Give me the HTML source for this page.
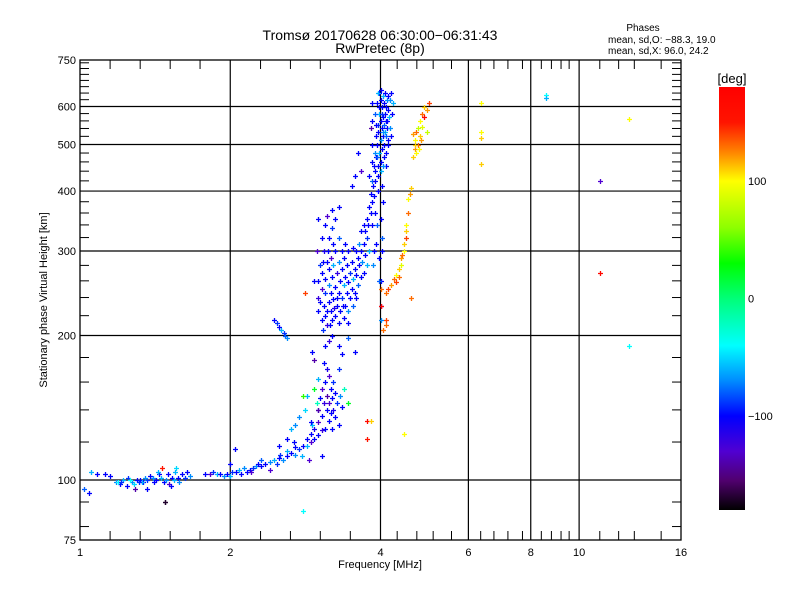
<!DOCTYPE html>
<html><head><meta charset="utf-8"><style>
body{margin:0;background:#fff;}
svg{display:block;font-family:"Liberation Sans",sans-serif;}
</style></head><body>
<svg id="chart" width="800" height="600" viewBox="0 0 800 600">
<rect width="800" height="600" fill="#fff"/>
<text x="380" y="40" text-anchor="middle" font-size="14">Tromsø 20170628 06:30:00−06:31:43</text>
<text x="380" y="53" text-anchor="middle" font-size="14">RwPretec (8p)</text>
<text x="643" y="31" text-anchor="middle" font-size="10">Phases</text>
<text x="608" y="43" font-size="10">mean, sd,O: −88.3, 19.0</text>
<text x="608" y="54" font-size="10">mean, sd,X:  96.0, 24.2</text>
<g id="grid"></g><g id="ticks"></g><g id="marks"></g>
<rect x="80" y="60" width="601" height="480" fill="none" stroke="#000" stroke-width="1.3"/>
<text x="380" y="568" text-anchor="middle" font-size="11">Frequency [MHz]</text>
<text transform="translate(47,300) rotate(-90)" text-anchor="middle" font-size="11">Stationary phase Virtual Height [km]</text>
<defs><linearGradient id="cb" x1="0" y1="0" x2="0" y2="1"></linearGradient></defs>
<rect x="719" y="87" width="26" height="423" fill="url(#cb)"/>
<text x="732" y="83" text-anchor="middle" font-size="13">[deg]</text>
<g id="cbticks"></g>
</svg>
<script>
const xTickVals=[1,2,4,6,8,10,16];
const yTickVals=[75,100,200,300,400,500,600,750];
const xGridVals=[2,4,6,8,10];
const yGridVals=[100,200,300,400,500,600];
const xMinorVals=[1.149,1.32,1.516,1.74,2.3,2.64,3.03,3.48,4.32,4.73,5.1,5.55,6.35,6.75,7.2,7.7,8.4,8.8,9.2,9.55,11.0,12.0,12.9,14.6];
const yMinorVals=[80,90,120,140,160,180,220,240,260,280,320,340,360,380,420,440,460,480,520,540,560,580,620,640,660,680,700,720,740];
const cbTickVals=[100,0,-100];
const eLayer=[[1.02,96,-80],[1.05,104,-60],[1.04,94,-100],[1.08,103,-100],[1.12,103,-100],[1.15,102,-100],[1.18,99,-70],[1.2,98,-100],[1.22,100,-60],[1.25,101,-90],[1.27,99,-70],[1.28,98,-50],[1.3,100,-100],[1.32,100,-100],[1.34,99,-100],[1.36,100,-90],[1.38,102,-100],[1.4,101,-70],[1.42,100,-100],[1.44,103,-100],[1.45,101,-60],[1.47,99,-100],[1.49,100,-70],[1.5,103,-100],[1.51,98,-130],[1.53,101,-100],[1.55,104,-60],[1.56,106,-50],[1.57,101,-100],[1.58,99,-70],[1.6,103,-100],[1.62,101,-90],[1.64,104,-100],[1.66,102,-70],[1.24,97,-100],[1.29,96,-140],[1.36,96,-100],[1.48,90,-170],[1.52,97,-100],[1.19,99,-40],[1.43,104,-60],[1.46,106,150],[1.33,99,-60],[1.26,100,-40],[1.31,99,-90],[1.35,101,-70],[1.41,99,-100],[1.54,100,-60],[1.21,99,-90]];
const eRise=[[1.78,103,-100],[1.82,103,-130],[1.85,104,-90],[1.88,103,-60],[1.91,103,-100],[1.94,102,-70],[1.97,103,-100],[2.0,102,-60],[2.0,108,-100],[2.02,104,-90],[2.05,104,-100],[2.08,105,-60],[2.1,103,-100],[2.13,106,-70],[2.16,104,-100],[2.19,105,-100],[2.22,106,-90],[2.25,107,-70],[2.27,108,-100],[2.3,107,-100],[2.04,116,-100],[2.4,105,-130],[2.35,108,-100],[2.4,109,-70],[2.45,110,-60],[2.48,108,-90],[2.5,111,-100],[2.55,110,-70],[2.6,112,-100],[2.6,115,-60],[2.65,114,-100],[2.7,113,-70],[2.7,117,-100],[2.75,116,-90],[2.78,112,-60],[2.8,118,-100],[2.85,118,-60],[2.85,122,-100],[2.9,120,-130],[2.9,125,-100],[2.92,130,-60],[2.95,122,-100],[2.95,128,-110],[3.0,124,-100],[3.0,132,-130],[3.0,140,-100],[3.02,148,-100],[3.05,127,-120],[3.05,136,-100],[3.05,155,-130],[3.08,145,-120],[3.1,128,-100],[3.1,160,-100],[3.12,140,-100],[3.12,150,-140],[3.15,133,-100],[3.15,145,-130],[3.15,165,-130],[3.18,138,-100],[3.18,155,-100],[3.2,128,-100],[3.2,148,-100],[3.22,140,-110],[3.22,160,-90],[3.25,135,-100],[3.25,152,-100],[3.28,145,-90],[3.3,130,-100],[3.3,170,-90],[3.32,150,-70],[3.35,142,-100],[3.38,155,-20],[3.35,183,-100],[2.98,145,-20],[3.0,162,-60],[2.95,178,-140],[3.08,175,-100],[3.1,190,-100],[3.15,195,-120],[3.2,200,-100],[2.85,150,-60],[2.82,140,-50],[2.8,150,40],[2.95,155,20],[3.3,190,-100],[3.45,145,20],[3.45,198,-80],[2.92,185,-100],[2.7,130,-70],[2.65,128,-60],[2.75,135,-70],[2.6,122,-100],[2.5,118,-100],[2.88,110,-130],[3.05,112,-100],[3.0,140,-140],[2.45,215,-100],[2.48,212,-90],[2.5,208,-100],[2.53,205,-60],[2.56,202,-90],[2.58,200,-80],[2.6,198,-70],[2.3,110,-80],[2.52,113,-90],[2.68,120,-100],[2.9,132,-100],[3.12,170,-110]];
const fO=[[3.0,225,-100],[3.0,240,-120],[3.0,260,-100],[3.02,280,-90],[3.05,215,-100],[3.05,250,-130],[3.05,270,-100],[3.08,230,-100],[3.08,300,-110],[3.1,220,-100],[3.1,245,-90],[3.1,262,-100],[3.12,285,-100],[3.12,210,-120],[3.15,235,-100],[3.15,255,-70],[3.15,275,-100],[3.15,320,-100],[3.18,225,-100],[3.18,245,-100],[3.18,290,-130],[3.2,215,-100],[3.2,265,-100],[3.2,335,-90],[3.22,238,-100],[3.22,280,-60],[3.25,220,-100],[3.25,252,-100],[3.25,300,-100],[3.25,350,-100],[3.28,230,-100],[3.28,270,-120],[3.3,212,-100],[3.3,245,-100],[3.3,285,-70],[3.32,225,-100],[3.32,260,-100],[3.35,240,-90],[3.35,275,-100],[3.38,218,-100],[3.38,255,-60],[3.4,230,-100],[3.4,265,-100],[3.42,245,-100],[3.42,280,-100],[3.45,225,-70],[3.45,258,-100],[3.48,240,-100],[3.48,270,-90],[3.5,250,-100],[3.5,285,-100],[3.52,262,-60],[3.55,245,-100],[3.55,275,-100],[3.58,268,-100],[3.6,255,-80],[3.6,290,-100],[3.62,280,-100],[3.65,265,-100],[3.65,300,-100],[3.68,285,-70],[3.7,310,-100],[3.72,295,-100],[3.72,330,-100],[3.75,320,-90],[3.75,350,-100],[3.78,340,-100],[3.8,370,-100],[3.8,300,-60],[3.82,360,-100],[3.82,395,-100],[3.85,380,-100],[3.85,420,-80],[3.87,410,-100],[3.88,450,-100],[3.9,440,-100],[3.9,480,-70],[3.92,470,-100],[3.92,520,-100],[3.94,500,-100],[3.95,550,-90],[3.96,530,-100],[3.97,600,-100],[3.98,580,-60],[3.98,640,-100],[4.0,620,-100],[4.0,560,-100],[4.0,510,-70],[4.0,460,-100],[4.02,600,-100],[4.02,540,-100],[4.02,490,-100],[4.04,630,-60],[4.04,570,-100],[4.04,520,-100],[4.06,610,-100],[4.06,550,-80],[4.06,500,-100],[4.08,640,-100],[4.08,580,-100],[4.08,530,-60],[4.1,600,-100],[4.1,560,-100],[4.1,480,-100],[4.12,620,-70],[4.12,540,-100],[4.14,590,-100],[4.14,510,-100],[4.16,570,-60],[3.95,450,-100],[3.9,420,-100],[3.88,390,-100],[4.0,440,-60],[3.85,340,-100],[3.95,400,-100],[3.7,270,-100],[3.75,280,-60],[2.95,260,-100],[2.98,300,-130],[3.05,320,-100],[3.1,340,-100],[3.12,355,-130],[3.0,350,-100],[3.35,300,-100],[3.4,310,-100],[3.85,460,-100],[3.8,430,-100],[3.85,500,-100],[3.85,560,-100],[3.85,610,-100],[3.82,540,-140],[3.6,480,-100],[3.55,430,-100],[3.65,440,-130],[3.5,410,-100],[3.2,365,-100],[3.3,370,-100],[4.0,230,-100],[4.0,215,-70],[4.0,260,-100],[3.98,290,-100],[4.02,320,-80],[4.05,380,-100],[4.1,450,-100],[4.15,500,-100],[4.2,520,-100],[4.2,640,-100],[4.18,620,-70],
[3.9,580,-80],[3.93,610,-100],[3.96,640,-60],[4.0,650,-100],[4.03,580,-90],[4.05,530,-70],[4.07,470,-100],[4.1,520,-80],[4.12,560,-100],[4.15,630,-100],[4.18,540,-70],[4.22,580,-100],[4.24,610,-60],[3.92,550,-100],[3.94,470,-80],[3.96,430,-100],[3.98,480,-60],[4.02,410,-100],[4.04,450,-70],[3.9,360,-100],[3.93,340,-80],[3.92,310,-100],[3.88,300,-100],[3.86,280,-70],[4.0,350,-100],[4.03,300,-100],[3.97,260,-80],
[3.07,285,-100],[3.14,300,-100],[3.22,310,-100],[3.3,320,-80],[3.38,290,-100],[3.45,300,-100],[3.52,305,-100],[3.58,300,-100],[3.62,310,-70],[3.66,330,-100],[3.7,340,-100],[3.27,240,-100],[3.36,230,-100],[3.44,212,-100],[3.52,230,-80],[3.58,240,-100],[3.02,235,-100],[3.13,225,-100],[3.23,228,-110],[3.17,210,-100],[3.07,205,-90]];
const fX=[[4.05,205,130],[4.1,210,130],[4.15,250,140],[4.1,245,130],[4.2,255,120],[4.25,262,130],[4.3,268,100],[4.3,258,140],[4.35,275,110],[4.35,265,130],[4.4,280,90],[4.4,290,120],[4.45,300,100],[4.45,310,110],[4.42,295,130],[4.5,330,110],[4.5,340,100],[4.55,360,130],[4.55,385,100],[4.58,395,120],[4.6,405,110],[4.65,470,110],[4.7,490,120],[4.7,510,100],[4.75,500,130],[4.75,540,80],[4.8,520,110],[4.8,560,100],[4.85,580,130],[4.85,545,90],[4.9,600,110],[4.9,570,170],[4.95,590,120],[4.95,530,80],[5.0,610,140],[4.65,525,120],[4.72,480,100],[4.6,240,130],[4.5,320,140],[4.0,250,130],[4.0,230,170],[4.1,215,140],[4.68,500,110],[4.72,530,130],[4.78,490,100],[4.82,510,120]];
const scatter=[[6.35,610,100],[6.35,530,100],[6.35,515,110],[6.35,455,110],[8.6,635,-40],[8.6,625,-60],[11.0,420,-130],[11.0,270,170],[12.6,565,100],[12.6,190,-40],[3.75,133,170],[3.82,133,110],[3.75,122,150],[4.45,125,100],[2.82,245,140],[2.8,86,-40],[3.55,185,-100],[1.48,90,-170],[2.2,104,-130]];

const X0=80,X1=681,Y0=60,Y1=540;
function xs(f){return X0+(X1-X0)*Math.log(f)/Math.log(16);}
function ys(h){return Y1-(Y1-Y0)*Math.log(h/75)/Math.log(10);}
const NS="http://www.w3.org/2000/svg";
function mk(tag,attrs,parent){const e=document.createElementNS(NS,tag);for(const k in attrs)e.setAttribute(k,attrs[k]);parent.appendChild(e);return e;}
const grid=document.getElementById('grid'),ticks=document.getElementById('ticks'),marks=document.getElementById('marks');
xGridVals.forEach(v=>{const l=mk('line',{x1:xs(v),x2:xs(v),y1:Y0,y2:Y1,stroke:'#000','stroke-width':1.2},grid);

});
yGridVals.forEach(v=>{const l=mk('line',{x1:X0,x2:X1,y1:ys(v),y2:ys(v),stroke:'#000','stroke-width':1.2},grid);

});
xMinorVals.forEach(v=>{const x=xs(v);
const a=mk('line',{x1:x,x2:x,y1:Y1,y2:Y1-9,stroke:'#000'},ticks);


const b=mk('line',{x1:x,x2:x,y1:Y0,y2:Y0+9,stroke:'#000'},ticks);

});
yMinorVals.forEach(v=>{const y=ys(v);
const a=mk('line',{x1:X0,x2:X0+9,y1:y,y2:y,stroke:'#000'},ticks);


const b=mk('line',{x1:X1,x2:X1-9,y1:y,y2:y,stroke:'#000'},ticks);

});
xTickVals.forEach(v=>{const t=mk('text',{x:xs(v),y:Y1+16,'text-anchor':'middle','font-size':11},ticks);t.textContent=v;

});
yTickVals.forEach(v=>{const t=mk('text',{x:X0-4,y:ys(v)+4,'text-anchor':'end','font-size':11},ticks);t.textContent=v;

});
const stops=[[180,[255,0,0]],[150,[255,20,0]],[125,[255,130,0]],[100,[255,255,0]],[60,[140,255,0]],[30,[0,255,0]],[0,[0,255,120]],[-40,[0,255,255]],[-70,[0,140,255]],[-100,[0,0,255]],[-130,[80,0,210]],[-155,[80,0,110]],[-180,[0,0,0]]];
function col(p){p=Math.max(-180,Math.min(180,p));for(let i=0;i<stops.length-1;i++){const [a,ca]=stops[i],[b,cb]=stops[i+1];if(p<=a&&p>=b){const t=(a-p)/(a-b);return 'rgb('+ca.map((c,j)=>Math.round(c+(cb[j]-c)*t)).join(',')+')';}}return '#000';}
const grad=document.getElementById('cb');
stops.forEach(s=>{mk('stop',{offset:((180-s[0])/360),'stop-color':col(s[0])},grad);});
const cbt=document.getElementById('cbticks');
cbTickVals.forEach(v=>{const y=87+(180-v)/360*423;const t=mk('text',{x:748,y:y+4,'font-size':11},cbt);t.textContent=v<0?'−'+(-v):v;

});
[eLayer,eRise,fO,fX,scatter].forEach(set=>set.forEach(([f,h,p])=>{const x=Math.round(xs(f))+0.5,y=Math.round(ys(h))+0.5;
const m=mk('path',{d:`M${x-2.5},${y}H${x+2.5}M${x},${y-2.5}V${y+2.5}`,stroke:col(p),'stroke-width':1.3,fill:'none'},marks);

}));
</script>
</body></html>
